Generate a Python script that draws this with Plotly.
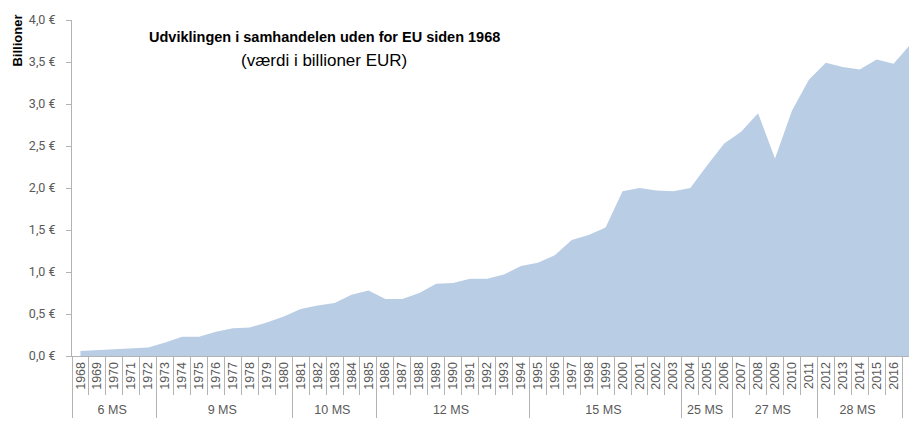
import plotly.graph_objects as go

# ---- data ----
years = [str(y) for y in range(1968, 2018)]
group_names = ["6 MS", "9 MS", "10 MS", "12 MS", "15 MS", "25 MS", "27 MS", "28 MS"]
group_sizes = [5, 8, 5, 9, 9, 3, 5, 6]
values = [
    0.06, 0.07, 0.08, 0.09, 0.10,                               # 1968-1972
    0.16, 0.23, 0.23, 0.29, 0.33, 0.34, 0.40, 0.47,             # 1973-1980
    0.56, 0.60, 0.63, 0.73, 0.78,                               # 1981-1985
    0.68, 0.68, 0.75, 0.86, 0.87, 0.92, 0.92, 0.97, 1.07,       # 1986-1994
    1.11, 1.20, 1.38, 1.44, 1.53, 1.96, 2.00, 1.97, 1.96,       # 1995-2003
    2.00, 2.27, 2.53,                                           # 2004-2006
    2.67, 2.89, 2.35, 2.92, 3.29,                               # 2007-2011
    3.49, 3.44, 3.41, 3.53, 3.48, 3.71,                         # 2012-2017
]
y_ticks = [0.0, 0.5, 1.0, 1.5, 2.0, 2.5, 3.0, 3.5, 4.0]
y_tick_labels = [("%.1f" % v).replace(".", ",") + " \u20ac" for v in y_ticks]
title_line1 = "Udviklingen i samhandelen uden for EU siden 1968"
title_line2 = "(v\u00e6rdi i billioner EUR)"
y_title = "Billioner"

groups = []
for name, n in zip(group_names, group_sizes):
    groups += [name] * n

# ---- geometry (screen pixels) ----
W, H = 909, 421
plot_left, plot_top, plot_bottom, plot_right = 71.5, 20, 356, 909
cat_w = 16.95

ml = plot_left
mt = plot_top
mb = H - plot_bottom
mr = W - plot_right
plot_w = plot_right - plot_left
plot_h = plot_bottom - plot_top


def to_paper(sx, sy):
    return (sx - plot_left) / plot_w, (plot_bottom - sy) / plot_h


fig = go.Figure()
fig.add_trace(go.Scatter(
    x=[groups, years],
    y=values,
    mode="lines",
    line=dict(width=0, color="#B9CDE5"),
    fill="tozeroy",
    fillcolor="#B9CDE5",
    hoverinfo="x+y",
    showlegend=False,
))

gray = "#595959"
axis_gray = "#B3B3B3"
font_family = "Liberation Sans, Arial, sans-serif"

fig.update_layout(
    template="none",
    width=W, height=H,
    margin=dict(l=ml, r=mr, t=mt, b=mb, pad=0, autoexpand=False),
    paper_bgcolor="white",
    plot_bgcolor="white",
    font=dict(family=font_family, color=gray, size=12),
    showlegend=False,
    xaxis=dict(
        type="multicategory",
        range=[-0.5, -0.5 + plot_w / cat_w],
        automargin=False,
        showgrid=False,
        showline=True,
        linecolor=axis_gray,
        linewidth=1,
        ticks="outside",
        tickson="boundaries",
        ticklen=38,
        tickcolor=axis_gray,
        tickwidth=1,
        tickangle=-90,
        tickfont=dict(size=12.5, color=gray, family=font_family),
        showdividers=True,
        dividercolor=axis_gray,
        dividerwidth=1,
        zeroline=False,
        fixedrange=True,
    ),
    yaxis=dict(
        range=[0, 4],
        automargin=False,
        tickmode="array",
        tickvals=y_ticks,
        ticktext=y_tick_labels,
        showgrid=False,
        showline=True,
        linecolor=axis_gray,
        linewidth=1,
        ticks="outside",
        ticklen=5,
        tickcolor=axis_gray,
        tickwidth=1,
        ticklabelstandoff=8,
        tickfont=dict(size=12.5, color=gray, family="Roboto, DejaVu Sans, sans-serif"),
        zeroline=False,
        fixedrange=True,
    ),
)

tx, ty1 = to_paper(324, 37)
_, ty2 = to_paper(324, 60)
fig.add_annotation(x=tx, y=ty1, xref="paper", yref="paper", text="<b>" + title_line1 + "</b>",
                   showarrow=False, xanchor="center", yanchor="middle",
                   font=dict(size=14.5, color="#000000", family=font_family))
fig.add_annotation(x=tx, y=ty2, xref="paper", yref="paper", text=title_line2,
                   showarrow=False, xanchor="center", yanchor="middle",
                   font=dict(size=17, color="#000000", family=font_family))
bx, by = to_paper(16, 41)
fig.add_annotation(x=bx, y=by, xref="paper", yref="paper", text="<b>" + y_title + "</b>",
                   showarrow=False, xanchor="center", yanchor="middle", textangle=-90,
                   font=dict(size=13, color="#000000", family=font_family))

fig.write_html(
    "out.html",
    config={"displayModeBar": False},
    post_script="document.body.style.margin='0px';document.body.style.overflow='hidden';",
)
